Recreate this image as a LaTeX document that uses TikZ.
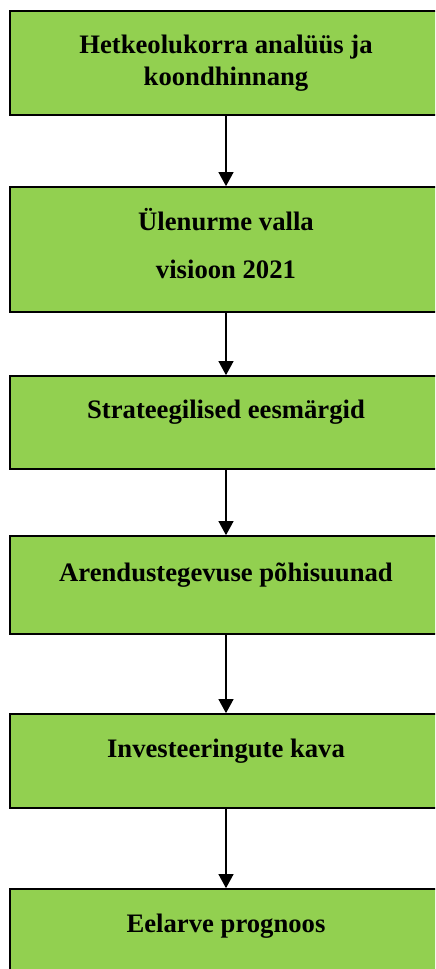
\documentclass[tikz,border=0pt]{standalone}
\usepackage{fontspec}
\setmainfont{Liberation Serif}
\usepackage{tikz}
\usetikzlibrary{arrows.meta}

\definecolor{boxgreen}{RGB}{146,208,80}

\begin{document}
\begin{tikzpicture}[x=0.75pt, y=-0.75pt,
    stage/.style={draw=black, line width=1.2pt, fill=boxgreen, align=center,
                  minimum width=324pt, inner sep=0pt,
                  font=\fontsize{20}{24}\selectfont\bfseries},
    oneline/.style={text height=13pt, text depth=19pt},
    flow/.style={line width=1.5pt, -{Triangle[width=11pt, length=10.5pt]}}]
        \useasboundingbox (0, 0) rectangle (435, 969);
        \clip (0, 0) rectangle (435, 969);

        \node[stage, minimum height=78pt](analyys) at (226, 63)
              {Hetkeolukorra anal\"u\"us ja\\koondhinnang};
        \node[stage, minimum height=93.75pt, text height=53pt, text depth=9.8pt](visioon) at (226, 249.5)
              {\"Ulenurme valla\\[12pt]visioon 2021};
        \node[stage, oneline, minimum height=69.75pt](eesmargid) at (226, 422.5)
              {Strateegilised eesm\"argid};
        \node[stage, oneline, minimum height=73.5pt](suunad) at (226, 585)
              {Arendustegevuse p\~ohisuunad};
        \node[stage, oneline, minimum height=70.5pt](kava) at (226, 761)
              {Investeeringute kava};
        \node[stage, oneline, minimum height=70.5pt](eelarve) at (226, 936)
              {Eelarve prognoos};

        \draw[flow] (analyys) -- (visioon);
        \draw[flow] (visioon) -- (eesmargid);
        \draw[flow] (eesmargid) -- (suunad);
        \draw[flow] (suunad) -- (kava);
        \draw[flow] (kava) -- (eelarve);
\end{tikzpicture}
\end{document}
